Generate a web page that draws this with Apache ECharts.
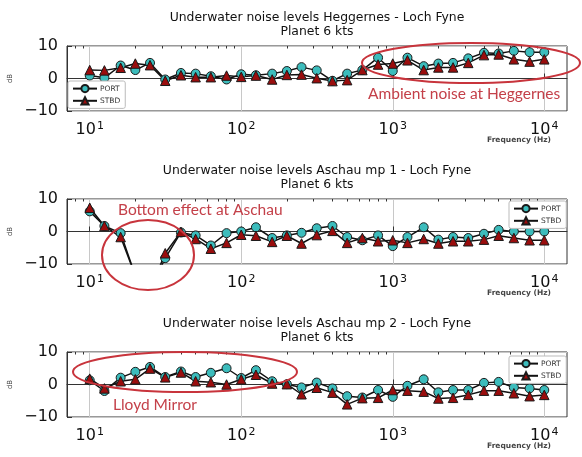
<!DOCTYPE html>
<html><head><meta charset="utf-8">
<script src="https://cdn.jsdelivr.net/npm/echarts@6/dist/echarts.min.js"></script>
<style>html,body{margin:0;padding:0;background:#fff}#c{width:582px;height:457px}</style>
</head><body><div id="c"></div>
<script>
const freqs = [10,12.5,16,20,25,31.5,40,50,63,80,100,125,160,200,250,315,400,500,630,800,1000,1250,1600,2000,2500,3150,4000,5000,6300,8000,10000];
const p1Port = [0.9,0.2,4.0,2.6,4.8,-0.3,1.7,1.5,0.7,-0.3,1.3,1.0,1.5,2.3,3.5,2.5,-0.7,1.5,2.6,6.4,2.3,6.4,3.8,4.6,4.8,6.2,7.9,7.7,8.5,8.1,8.1];
const p1Stbd = [2.6,2.5,3.3,4.6,4.1,-0.7,1.0,0.4,0.4,0.9,0.5,0.9,-0.3,1.1,1.2,0.1,-0.8,-0.5,2.6,4.3,4.6,5.6,2.6,3.4,3.4,4.8,7.2,7.4,5.9,5.2,5.9];
const p2Port = [6.2,1.7,-0.5,-13.6,-18,-8.2,-0.3,-1.2,-4.3,-0.5,0,1.3,-2,-1.2,-0.4,1,1.7,-1.7,-2.7,-1.2,-4.5,-1.7,1.3,-2.5,-1.7,-2,-0.7,0.5,0,0,0];
const p2Stbd = [7.3,1.7,-1.7,-13.6,-18,-6.7,-0.1,-2.3,-5.3,-3.5,-1,-1.3,-3.2,-1.3,-3.7,-1.1,0.2,-3.5,-2,-3,-2.7,-3.5,-2.3,-3.7,-3,-3,-2.5,-1.3,-2,-2.7,-2.7];
const p3Port = [1.3,-2,2.1,3.9,5.4,2.3,4,2.3,3.6,5,2,4.4,1,0.1,-0.9,0.6,-1.2,-3.6,-4,-1.7,-3.8,-0.4,1.6,-2.4,-1.7,-1.7,0.5,0.8,-0.9,-1.2,-1.7];
const p3Stbd = [1.8,-1.2,1,1.6,4.9,2.2,3.7,1,0.7,0,1.6,3,0.3,0.1,-3,-1,-2.5,-6.1,-4.2,-4.1,-1.7,-1.9,-2.2,-4.3,-4.1,-3.2,-1.9,-1.9,-2.7,-3.6,-3.2];
const titles = ["Underwater noise levels Heggernes - Loch Fyne","Underwater noise levels Aschau mp 1 - Loch Fyne","Underwater noise levels Aschau mp 2 - Loch Fyne"];
const subtitle = "Planet 6 kts";
const majorDecades = [1,2,3,4];
const minorFreqs = [8,9,20,30,40,50,60,70,80,90,200,300,400,500,600,700,800,900,2000,3000,4000,5000,6000,7000,8000,9000];
const yTicks = [-10,0,10];

const xMin = 0.85, xMax = 4.15;
const gridTops = [46, 199, 352];
const gridH = 65;
const panels = [[p1Port,p1Stbd],[p2Port,p2Stbd],[p3Port,p3Stbd]];
const FONT = "DejaVu Sans";
const chart = echarts.init(document.getElementById('c'));

const grids = [], xAxes = [], yAxes = [], series = [], legends = [], titleOpts = [], graphics = [];
panels.forEach((pd, i) => {
  grids.push({left: 67, width: 500, top: gridTops[i], height: gridH, show: true, borderColor: '#333', borderWidth: 1,
    containLabel: false, outerBoundsMode: 'none'});
  xAxes.push({
    type: 'value', gridIndex: i, min: xMin, max: xMax,
    axisLine: {show: true, lineStyle: {color: '#333', width: 1}},
    axisTick: {inside: true, length: 5, customValues: majorDecades, lineStyle: {color: '#333'}},
    axisLabel: {customValues: majorDecades, margin: 10, color: '#111',
      formatter: v => '{b|10}{s|' + Math.round(v) + '}',
      rich: {b: {fontSize: 16, fontFamily: FONT, color: '#111'}, s: {fontSize: 11, fontFamily: FONT, color: '#111', verticalAlign: 'top', padding: [0,0,6,1]}}},
    splitLine: {show: true, lineStyle: {color: '#c8c8c8', width: 1}}
  });
  xAxes.push({
    type: 'value', gridIndex: i, min: xMin, max: xMax,
    axisLine: {show: false},
    axisTick: {inside: true, length: 2.5, customValues: minorFreqs.map(f => Math.log10(f)), lineStyle: {color: '#333'}},
    axisLabel: {show: false}, splitLine: {show: false}
  });
  yAxes.push({
    type: 'value', gridIndex: i, min: yTicks[0], max: yTicks[2], interval: 10,
    name: 'dB', nameLocation: 'middle', nameGap: 52, nameRotate: 90,
    nameTextStyle: {fontSize: 7, fontFamily: FONT, color: '#444'},
    axisLine: {show: true, lineStyle: {color: '#333'}},
    axisTick: {inside: true, length: 5, lineStyle: {color: '#333'}},
    axisLabel: {fontSize: 16, fontFamily: FONT, color: '#111', margin: 9,
      formatter: v => (v < 0 ? '\u2212' + Math.abs(v) : String(v))},
    splitLine: {show: true, lineStyle: {color: '#c8c8c8', width: 1}}
  });
  series.push({
    name: 'PORT', type: 'line', xAxisIndex: i*2, yAxisIndex: i, clip: true,
    data: freqs.map((f, k) => [Math.log10(f), pd[0][k]]),
    symbol: 'circle', symbolSize: 9,
    lineStyle: {color: '#111', width: 1.5},
    itemStyle: {color: '#3cbcbc', borderColor: '#1a1a1a', borderWidth: 1},
    emphasis: {disabled: true}, animation: false
  });
  series.push({
    name: 'STBD', type: 'line', xAxisIndex: i*2, yAxisIndex: i, clip: true,
    data: freqs.map((f, k) => [Math.log10(f), pd[1][k]]),
    symbol: 'triangle', symbolSize: 9.5,
    lineStyle: {color: '#111', width: 1.5},
    itemStyle: {color: '#9a0d0d', borderColor: '#1a1a1a', borderWidth: 1},
    emphasis: {disabled: true}, animation: false
  });
  titleOpts.push({text: titles[i], subtext: subtitle, left: 317, textAlign: 'center', top: gridTops[i] - 34,
    itemGap: 2, padding: 0,
    textStyle: {fontSize: 12.4, fontWeight: 'normal', fontFamily: FONT, color: '#111'},
    subtextStyle: {fontSize: 12.4, fontFamily: FONT, color: '#111'}});
  graphics.push({type: 'text', left: 487, top: gridTops[i] + gridH + 25,
    style: {text: 'Frequency (Hz)', fontSize: 7.5, fontFamily: FONT, fill: '#444', fontWeight: 'bold'}});
});
const legendPos = [{left: 68, top: 81}, {left: 509, top: 201}, {left: 509, top: 356}];
legendPos.forEach(p => legends.push({
  data: ['PORT','STBD'], orient: 'vertical', left: p.left, top: p.top,
  itemWidth: 24, itemHeight: 9, itemGap: 3, padding: [3,5,3,4],
  backgroundColor: '#fff', borderColor: '#bbb', borderWidth: 1, borderRadius: 2,
  textStyle: {fontSize: 7.5, fontFamily: FONT, color: '#333', padding: [0,0,0,-2]},
  selectedMode: false
}));
const red = '#c8343c', redText = '#c44049';
graphics.push(
  {type: 'ellipse', shape: {cx: 471, cy: 63, rx: 109, ry: 20}, style: {fill: null, stroke: red, lineWidth: 2}, z: 100},
  {type: 'text', left: 368, top: 86, style: {text: 'Ambient noise at Heggernes', fontSize: 15.5, fontFamily: 'Lato', fill: redText}, z: 100},
  {type: 'ellipse', shape: {cx: 148, cy: 255, rx: 46, ry: 35}, style: {fill: null, stroke: red, lineWidth: 2}, z: 100},
  {type: 'text', left: 118, top: 202, style: {text: 'Bottom effect at Aschau', fontSize: 15.5, fontFamily: 'Lato', fill: redText}, z: 100},
  {type: 'ellipse', shape: {cx: 185, cy: 372, rx: 112, ry: 20}, style: {fill: null, stroke: red, lineWidth: 2}, z: 100},
  {type: 'text', left: 113, top: 397, style: {text: 'Lloyd Mirror', fontSize: 15.5, fontFamily: 'Lato', fill: redText}, z: 100}
);

chart.setOption({
  animation: false,
  title: titleOpts, grid: grids, xAxis: xAxes, yAxis: yAxes, series: series, legend: legends,
  graphic: graphics
});
</script></body></html>
